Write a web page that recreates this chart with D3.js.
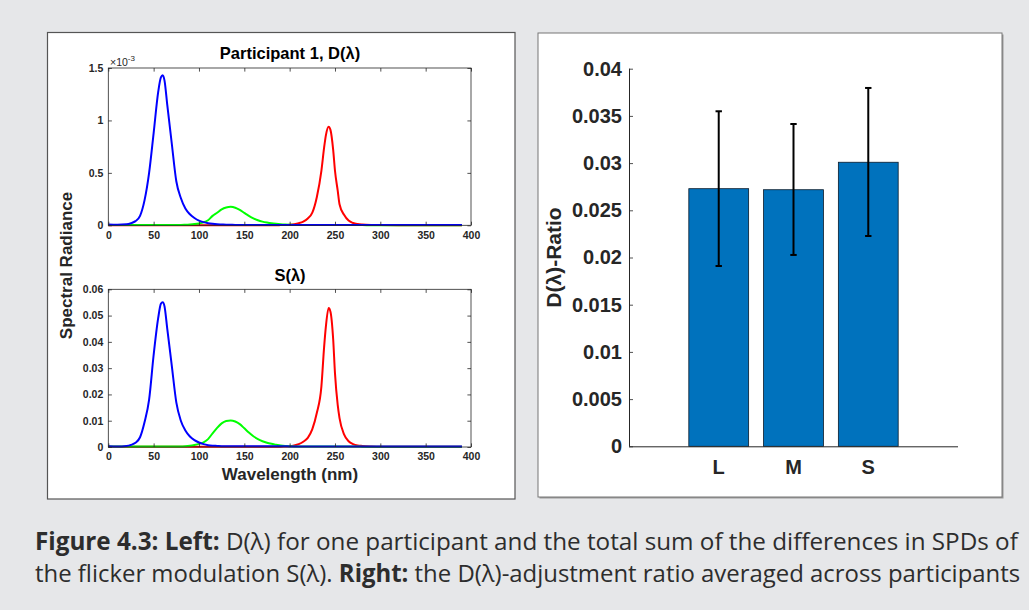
<!DOCTYPE html>
<html><head><meta charset="utf-8">
<script src="https://cdn.jsdelivr.net/npm/d3@7/dist/d3.min.js"></script>
<style>html,body{margin:0;padding:0;background:#e6e7e9;} svg{display:block}</style>
</head><body>
<svg id="c" width="1029" height="610"></svg>
<script>
// ---------- DATA ----------
const wavelengths = [0,10,20,25,30,35,40,45,50,55,58,60,62,65,70,75,80,85,90,95,100,105,110,115,120,125,130,135,140,145,150,155,160,165,170,175,180,185,190,195,200,205,210,215,220,225,230,235,238,240,243,245,248,250,253,255,260,265,270,275,280,290,300,320,340,360,390];
// D(lambda), units of 1e-3
const blueD  = [0.008,0.006,0.01,0.02,0.04,0.09,0.24,0.5,0.88,1.27,1.41,1.43,1.38,1.15,0.78,0.42,0.26,0.16,0.105,0.07,0.045,0.03,0.02,0.014,0.01,0.008,0.006,0.005,0.004,0.004,0.004,0.004,0.004,0.004,0.004,0.004,0.004,0.004,0.004,0.004,0.003,0.003,0.003,0.003,0.003,0.003,0.003,0.003,0.003,0.003,0.003,0.003,0.003,0.003,0.003,0.003,0.003,0.003,0.003,0.003,0.003,0.003,0.003,0.002,0.002,0.002,0.002];
const greenD = [0.002,0.002,0.002,0.003,0.003,0.003,0.003,0.003,0.003,0.003,0.003,0.003,0.003,0.003,0.003,0.003,0.003,0.005,0.008,0.012,0.018,0.028,0.048,0.09,0.12,0.152,0.17,0.176,0.168,0.147,0.118,0.09,0.066,0.048,0.035,0.026,0.019,0.014,0.01,0.007,0.005,0.004,0.003,0.002,0.002,0.002,0.002,0.002,0.002,0.002,0.002,0.002,0.002,0.002,0.002,0.002,0.002,0.002,0.002,0.002,0.002,0.001,0.001,0.001,0.001,0.001,0.001];
const redD   = [0.001,0.001,0.001,0.001,0.001,0.001,0.001,0.001,0.001,0.001,0.001,0.001,0.001,0.001,0.001,0.001,0.001,0.001,0.001,0.001,0.001,0.001,0.001,0.001,0.001,0.001,0.001,0.001,0.001,0.001,0.001,0.001,0.001,0.001,0.001,0.001,0.001,0.001,0.002,0.003,0.006,0.011,0.02,0.035,0.065,0.12,0.27,0.52,0.74,0.86,0.94,0.91,0.72,0.52,0.33,0.2,0.1,0.045,0.022,0.012,0.007,0.003,0.002,0.001,0.001,0.001,0.001];
// S(lambda)
const blueS  = [0.0003,0.0002,0.0004,0.0008,0.0016,0.0037,0.0095,0.018,0.035,0.049,0.0545,0.0551,0.0535,0.045,0.031,0.017,0.01,0.0063,0.004,0.0026,0.0017,0.0011,0.0007,0.0005,0.0004,0.0003,0.0003,0.0003,0.0003,0.0003,0.0003,0.0003,0.0003,0.0003,0.0003,0.0003,0.0003,0.0003,0.0003,0.0003,0.0002,0.0002,0.0002,0.0002,0.0002,0.0002,0.0002,0.0002,0.0002,0.0002,0.0002,0.0002,0.0002,0.0002,0.0002,0.0002,0.0002,0.0002,0.0002,0.0002,0.0002,0.0002,0.0002,0.0002,0.0002,0.0002,0.0002];
const greenS = [0.0002,0.0002,0.0002,0.0002,0.0002,0.0002,0.0002,0.0002,0.0002,0.0002,0.0002,0.0002,0.0002,0.0002,0.0002,0.0002,0.0002,0.0003,0.0005,0.0008,0.0012,0.0018,0.003,0.0052,0.0073,0.009,0.0099,0.0101,0.0097,0.0087,0.0071,0.0055,0.0041,0.003,0.0022,0.0016,0.0012,0.0009,0.0006,0.0004,0.0003,0.0002,0.0002,0.0002,0.0002,0.0002,0.0002,0.0002,0.0002,0.0002,0.0002,0.0002,0.0002,0.0002,0.0002,0.0002,0.0002,0.0002,0.0002,0.0002,0.0001,0.0001,0.0001,0.0001,0.0001,0.0001,0.0001];
const redS   = [0.0001,0.0001,0.0001,0.0001,0.0001,0.0001,0.0001,0.0001,0.0001,0.0001,0.0001,0.0001,0.0001,0.0001,0.0001,0.0001,0.0001,0.0001,0.0001,0.0001,0.0001,0.0001,0.0001,0.0001,0.0001,0.0001,0.0001,0.0001,0.0001,0.0001,0.0001,0.0001,0.0001,0.0001,0.0001,0.0001,0.0001,0.0001,0.0001,0.0002,0.0003,0.0006,0.0011,0.002,0.0035,0.0068,0.013,0.023,0.038,0.046,0.0529,0.0515,0.041,0.028,0.016,0.011,0.0048,0.0022,0.0011,0.0006,0.0004,0.0002,0.0001,0.0001,0.0001,0.0001,0.0001];

const xTicks = [0,50,100,150,200,250,300,350,400];
const dTicks = [0,0.5,1,1.5];
const dTickLabels = ["0","0.5","1","1.5"];
const sTicks = [0,0.01,0.02,0.03,0.04,0.05,0.06];
const sTickLabels = ["0","0.01","0.02","0.03","0.04","0.05","0.06"];

const ratioCategories = ["L","M","S"];
const ratioMeans = [0.02729,0.02718,0.03009];
const ratioUpper = [0.03549,0.03414,0.03796];
const ratioLower = [0.01910,0.02027,0.02228];
const ratioTicks = [0,0.005,0.01,0.015,0.02,0.025,0.03,0.035,0.04];
const ratioTickLabels = ["0","0.005","0.01","0.015","0.02","0.025","0.03","0.035","0.04"];

// ---------- DRAW ----------
const svg = d3.select("#c");
const INK = "#262626";
const FONT = "'Liberation Sans', Arial, Helvetica, sans-serif";

svg.append("rect").attr("width",1029).attr("height",610).attr("fill","#e6e7e9");

// panels
svg.append("rect").attr("x",47.5).attr("y",32.5).attr("width",467.5).attr("height",466.5)
  .attr("fill","#fff").attr("stroke","#555").attr("stroke-width",1.2);
svg.append("rect").attr("x",539.5).attr("y",34.5).attr("width",464).attr("height",464)
  .attr("fill","#999");
svg.append("rect").attr("x",538).attr("y",33).attr("width",464).attr("height",464)
  .attr("fill","#fff").attr("stroke","#777").attr("stroke-width",1);

const x = d3.scaleLinear().domain([0,400]).range([108.3,471]);

function spectrumPlot(yRange, yDomain, yTicks, yLabels, series, title, titleY) {
  const y = d3.scaleLinear().domain(yDomain).range(yRange);
  const g = svg.append("g");
  const line = d3.line().x((d,i)=>x(wavelengths[i])).y(d=>y(d)).curve(d3.curveMonotoneX);
  series.forEach(s=>{
    g.append("path").datum(s.values).attr("d",line).attr("fill","none")
      .attr("stroke",s.color).attr("stroke-width",2);
  });
  const [yb, yt] = yRange;
  const tl = 3.6;
  const bottom = g.append("g").attr("transform",`translate(0,${yb})`)
    .call(d3.axisBottom(x).tickValues(xTicks).tickSizeInner(-tl).tickSizeOuter(0).tickPadding(6));
  const top = g.append("g").attr("transform",`translate(0,${yt})`)
    .call(d3.axisTop(x).tickValues(xTicks).tickSizeInner(-tl).tickSizeOuter(0).tickFormat(""));
  const left = g.append("g").attr("transform",`translate(${x.range()[0]},0)`)
    .call(d3.axisLeft(y).tickValues(yTicks).tickSizeInner(-tl).tickSizeOuter(0).tickPadding(5)
      .tickFormat((d,i)=>yLabels[i]));
  const right = g.append("g").attr("transform",`translate(${x.range()[1]},0)`)
    .call(d3.axisRight(y).tickValues(yTicks).tickSizeInner(-tl).tickSizeOuter(0).tickFormat(""));
  [bottom,top,left,right].forEach(a=>{
    a.select(".domain").remove();
    a.selectAll(".tick line").attr("stroke",INK).attr("stroke-width",0.8);
    a.selectAll("text").attr("fill",INK).style("font-family",FONT).style("font-weight","bold").style("font-size","10.5px");
  });
  g.append("rect").attr("x",x.range()[0]).attr("y",yt).attr("width",x.range()[1]-x.range()[0])
    .attr("height",yb-yt).attr("fill","none").attr("stroke",INK).attr("stroke-width",0.8);
  g.append("text").attr("x",290).attr("y",titleY).attr("text-anchor","middle")
    .style("font-family",FONT).style("font-weight","bold").style("font-size","16.5px").attr("fill","#000").text(title);
  return y;
}

spectrumPlot([225.3,68],[0,1.5],dTicks,dTickLabels,
  [{values:redD,color:"#ff0000"},{values:greenD,color:"#00ff00"},{values:blueD,color:"#0000ff"}],
  "Participant 1, D(λ)",58.5);
spectrumPlot([447,289.3],[0,0.06],sTicks,sTickLabels,
  [{values:redS,color:"#ff0000"},{values:greenS,color:"#00ff00"},{values:blueS,color:"#0000ff"}],
  "S(λ)",281);

// exponent label
const ex = svg.append("text").attr("x",110).attr("y",65.5).attr("fill",INK)
  .style("font-family",FONT).style("font-size","10.5px");
ex.append("tspan").text("×10");
ex.append("tspan").attr("dy",-5).style("font-size","8px").text("-3");

// shared labels
svg.append("text").attr("x",290).attr("y",479.5).attr("text-anchor","middle")
  .style("font-family",FONT).style("font-weight","bold").style("font-size","17px").attr("fill",INK)
  .text("Wavelength (nm)");
svg.append("text").attr("transform","translate(71.5,265.5) rotate(-90)").attr("text-anchor","middle")
  .style("font-family",FONT).style("font-weight","bold").style("font-size","17px").attr("fill",INK)
  .text("Spectral Radiance");

// ---------- Right bar chart ----------
const xb = d3.scaleBand().domain(ratioCategories).range([629,958]).paddingInner(0.2).paddingOuter(0.8);
const yb = d3.scaleLinear().domain([0,0.04]).range([446.3,68.7]);
const gb = svg.append("g");
gb.selectAll("rect.bar").data(ratioCategories).join("rect").attr("class","bar")
  .attr("x",d=>xb(d)).attr("width",xb.bandwidth())
  .attr("y",(d,i)=>yb(ratioMeans[i])).attr("height",(d,i)=>yb(0)-yb(ratioMeans[i]))
  .attr("fill","#0072bd").attr("stroke","#0a1a2a").attr("stroke-width",0.8);
ratioCategories.forEach((c,i)=>{
  const cx = xb(c)+xb.bandwidth()/2;
  gb.append("line").attr("x1",cx).attr("x2",cx).attr("y1",yb(ratioLower[i])).attr("y2",yb(ratioUpper[i]))
    .attr("stroke","#000").attr("stroke-width",2);
  [ratioLower[i],ratioUpper[i]].forEach(v=>{
    gb.append("line").attr("x1",cx-3.2).attr("x2",cx+3.2).attr("y1",yb(v)).attr("y2",yb(v))
      .attr("stroke","#000").attr("stroke-width",2);
  });
});
const ay = gb.append("g").attr("transform","translate(629,0)")
  .call(d3.axisLeft(yb).tickValues(ratioTicks).tickSizeInner(-4).tickSizeOuter(0).tickPadding(7)
    .tickFormat((d,i)=>ratioTickLabels[i]));
const ax = gb.append("g").attr("transform",`translate(0,${yb(0)})`)
  .call(d3.axisBottom(xb).tickSize(0).tickPadding(13.5));
[ay,ax].forEach(a=>{
  a.select(".domain").attr("stroke",INK).attr("stroke-width",1);
  a.selectAll(".tick line").attr("stroke",INK).attr("stroke-width",0.8);
  a.selectAll("text").attr("fill",INK).style("font-family",FONT).style("font-weight","bold").style("font-size","20px");
});
ay.select(".domain").attr("d","M0.5,68.7V446.3");
ax.select(".domain").attr("d","M629,0.5H958");
svg.append("text").attr("transform","translate(560.5,257.5) rotate(-90)").attr("text-anchor","middle")
  .style("font-family",FONT).style("font-weight","bold").style("font-size","21px").attr("fill",INK)
  .text("D(λ)-Ratio");

// ---------- Caption ----------
const CAPF = "'Open Sans', 'Noto Sans', sans-serif";
function captionLine(parts, baseline, x0, x1) {
  const t = svg.append("text").attr("x",0).attr("y",0).attr("fill","#2d2d2d")
    .style("font-family",CAPF).style("font-size","24.5px");
  parts.forEach(p=>t.append("tspan").style("font-weight",p.b?"bold":"normal").text(p.t));
  const w = t.node().getComputedTextLength();
  t.attr("transform",`translate(${x0},${baseline}) scale(${(x1-x0)/w},1)`);
}
captionLine([{t:"Figure 4.3: ",b:true},{t:"Left:",b:true},{t:" D(λ) for one participant and the total sum of the differences in SPDs of",b:false}],549.5,35,1018.5);
captionLine([{t:"the flicker modulation S(λ). ",b:false},{t:"Right:",b:true},{t:" the D(λ)-adjustment ratio averaged across participants",b:false}],581.5,35,1020.5);
</script>
</body></html>
